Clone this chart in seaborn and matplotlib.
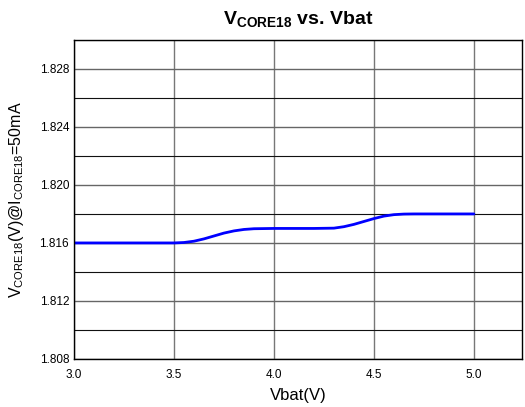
import matplotlib
matplotlib.use("Agg")
import matplotlib.pyplot as plt
import seaborn as sns
import pandas as pd
from matplotlib.ticker import MultipleLocator, FormatStrFormatter

vbat = [3.0, 3.2, 3.4, 3.5, 3.55, 3.6, 3.65, 3.7, 3.75, 3.8, 3.85, 3.9, 4.0, 4.1, 4.2, 4.3,
        4.35, 4.4, 4.45, 4.5, 4.55, 4.6, 4.65, 4.7, 4.8, 4.9, 5.0]
vcore = [1.8160, 1.8160, 1.8160, 1.8160, 1.81603, 1.81612, 1.81628, 1.81648, 1.81668, 1.81683,
         1.81693, 1.81698, 1.8170, 1.8170, 1.8170, 1.81702, 1.81712, 1.81728, 1.81748, 1.81768,
         1.81785, 1.81795, 1.81799, 1.8180, 1.8180, 1.8180, 1.8180]

sns.set_style("white")
plt.rcParams["font.family"] = ["Liberation Sans", "DejaVu Sans"]
plt.rcParams["mathtext.fontset"] = "custom"
plt.rcParams["mathtext.rm"] = "Liberation Sans"
plt.rcParams["mathtext.bf"] = "Liberation Sans:bold"
plt.rcParams["text.color"] = "black"
plt.rcParams["axes.labelcolor"] = "black"

fig = plt.figure(figsize=(5.25, 4.07), dpi=100)
ax = fig.add_axes([0.141, 0.118, 0.853, 0.784])

df = pd.DataFrame({"Vbat": vbat, "V": vcore})
sns.lineplot(data=df, x="Vbat", y="V", ax=ax, color="#0000ff", linewidth=2)

ax.set_xlim(3.0, 5.24)
ax.set_ylim(1.808, 1.830)
ax.xaxis.set_major_locator(MultipleLocator(0.5))
ax.xaxis.set_minor_locator(MultipleLocator(0.25))
ax.yaxis.set_major_locator(MultipleLocator(0.004))
ax.yaxis.set_minor_locator(MultipleLocator(0.002))
ax.xaxis.set_major_formatter(FormatStrFormatter("%.1f"))
ax.yaxis.set_major_formatter(FormatStrFormatter("%.3f"))

ax.grid(True, which="major", axis="x", color="#777777", linewidth=1)
ax.grid(True, which="major", axis="y", color="#666666", linewidth=1)
ax.grid(True, which="minor", axis="y", color="#111111", linewidth=0.8)
ax.set_axisbelow(True)

ax.tick_params(axis="both", which="major", direction="in", length=4, width=1, labelsize=8.5, colors="black")
ax.tick_params(axis="both", which="minor", direction="in", length=2.5, width=1)
ax.tick_params(axis="x", pad=7)
for s in ax.spines.values():
    s.set_color("black")
    s.set_linewidth(1)
    s.set_visible(True)

ax.set_xlabel("Vbat(V)", fontsize=12, labelpad=5)
ax.set_ylabel(r"V$_{\mathregular{CORE18}}$(V)@I$_{\mathregular{CORE18}}$=50mA", fontsize=11.5, labelpad=10)
ax.set_title(r"V$_{\mathbf{CORE18}}$ vs. Vbat", fontsize=14, fontweight="bold", pad=11, color="black")

fig.savefig("out.png", dpi=100)
